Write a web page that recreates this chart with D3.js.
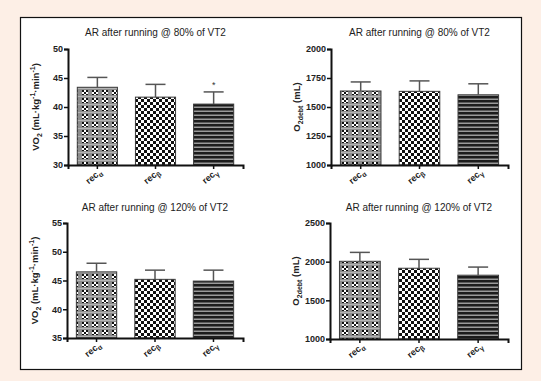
<!DOCTYPE html>
<html>
<head>
<meta charset="utf-8">
<script src="https://cdn.jsdelivr.net/npm/d3@7"></script>
<style>
  html, body { margin: 0; padding: 0; background: #fdefe6; }
  svg { display: block; font-family: "Liberation Sans", Arial, sans-serif; }
  .tick-lbl { font-size: 9px; font-weight: bold; fill: #222; }
  .title { font-size: 10px; fill: #222; }
  .ylab { font-size: 9.5px; font-weight: bold; fill: #222; }
</style>
</head>
<body>
<div id="chart"></div>
<script>
const categories = ["α", "β", "γ"];

const vo2At80 = [43.4, 41.7, 40.5];
const vo2At80Sem = [1.7, 2.2, 2.1];
const o2At80 = [1638, 1635, 1605];
const o2At80Sem = [78, 90, 95];

const vo2At120 = [46.5, 45.2, 44.9];
const vo2At120Sem = [1.5, 1.6, 1.9];
const o2At120 = [2005, 1915, 1825];
const o2At120Sem = [115, 115, 105];

const vo2At80Ticks = [30, 35, 40, 45, 50];
const o2At80Ticks = [1000, 1250, 1500, 1750, 2000];
const vo2At120Ticks = [35, 40, 45, 50, 55];
const o2At120Ticks = [1000, 1500, 2000, 2500];

const title80 = "AR after running @ 80% of VT2";
const title120 = "AR after running @ 120% of VT2";

const W = 541, H = 381;

const svg = d3.select("#chart").append("svg")
  .attr("width", W)
  .attr("height", H);

// fill patterns, one per recovery phase
const defs = svg.append("defs");

const patA = defs.append("pattern")
  .attr("id", "patA").attr("patternUnits", "userSpaceOnUse")
  .attr("width", 10).attr("height", 8);
patA.append("rect").attr("width", 10).attr("height", 8).attr("fill", "#8d8d8d");
patA.append("rect").attr("y", 0).attr("width", 10).attr("height", 1).attr("fill", "#b4b4b4");
patA.append("rect").attr("x", 2).attr("y", 2).attr("width", 6).attr("height", 5).attr("fill", "#fff");
[[2, 2], [6, 2], [4, 4], [2, 6], [6, 6]].forEach(([x, y]) => {
  patA.append("rect").attr("x", x).attr("y", y).attr("width", 2).attr("height", y === 6 ? 1 : 2).attr("fill", "#111");
});

const patB = defs.append("pattern")
  .attr("id", "patB").attr("patternUnits", "userSpaceOnUse")
  .attr("width", 6).attr("height", 6);
patB.append("rect").attr("width", 6).attr("height", 6).attr("fill", "#fff");
patB.append("rect").attr("width", 3).attr("height", 3).attr("fill", "#111");
patB.append("rect").attr("x", 3).attr("y", 3).attr("width", 3).attr("height", 3).attr("fill", "#111");

const patC = defs.append("pattern")
  .attr("id", "patC").attr("patternUnits", "userSpaceOnUse")
  .attr("width", 4).attr("height", 4);
patC.append("rect").attr("width", 4).attr("height", 4).attr("fill", "#1c1c1c");
patC.append("rect").attr("y", 2.5).attr("width", 4).attr("height", 1.5).attr("fill", "#9a9a9a");

const fills = ["url(#patA)", "url(#patB)", "url(#patC)"];

// white frame
svg.append("rect")
  .attr("x", 20.5).attr("y", 17.5)
  .attr("width", 501).attr("height", 352)
  .attr("fill", "#fff").attr("stroke", "#111").attr("stroke-width", 1.2);

function panel(opts) {
  const { left, right, top, bottom, values, sem, ticks, title, titleY, ylabel, ylabX, stars } = opts;
  const g = svg.append("g");

  const x = d3.scaleBand()
    .domain(categories)
    .range([left, right])
    .paddingInner(0.31)
    .paddingOuter(0.16);

  const y = d3.scaleLinear()
    .domain(d3.extent(ticks))
    .range([bottom, top]);

  const rows = categories.map((c, i) => ({ c, v: values[i], e: sem[i], fill: fills[i], star: stars ? stars[i] : "" }));

  g.selectAll("rect.bar")
    .data(rows)
    .join("rect")
    .attr("class", "bar")
    .attr("x", (d) => x(d.c))
    .attr("y", (d) => y(d.v))
    .attr("width", x.bandwidth())
    .attr("height", (d) => bottom - y(d.v))
    .attr("fill", (d) => d.fill)
    .attr("stroke", "#3a3a3a")
    .attr("stroke-width", 1);

  // upper error bars only
  const eb = g.selectAll("g.err").data(rows).join("g").attr("class", "err");
  eb.append("line")
    .attr("x1", (d) => x(d.c) + x.bandwidth() / 2)
    .attr("x2", (d) => x(d.c) + x.bandwidth() / 2)
    .attr("y1", (d) => y(d.v))
    .attr("y2", (d) => y(d.v + d.e))
    .attr("stroke", "#555").attr("stroke-width", 1.5);
  eb.append("line")
    .attr("x1", (d) => x(d.c) + x.bandwidth() / 2 - 10)
    .attr("x2", (d) => x(d.c) + x.bandwidth() / 2 + 10)
    .attr("y1", (d) => y(d.v + d.e))
    .attr("y2", (d) => y(d.v + d.e))
    .attr("stroke", "#555").attr("stroke-width", 1.5);

  g.selectAll("text.star")
    .data(rows.filter((d) => d.star))
    .join("text")
    .attr("class", "star")
    .attr("x", (d) => x(d.c) + x.bandwidth() / 2)
    .attr("y", (d) => y(d.v + d.e) - 4)
    .attr("text-anchor", "middle")
    .attr("font-size", 9)
    .attr("fill", "#333")
    .text((d) => d.star);

  // y axis
  const yAxis = g.append("g")
    .attr("transform", `translate(${left},0)`)
    .call(d3.axisLeft(y).tickValues(ticks).tickSize(4).tickPadding(1).tickFormat(d3.format("d")));
  yAxis.select(".domain").attr("stroke", "#111").attr("stroke-width", 2);
  yAxis.selectAll(".tick line").attr("stroke", "#111").attr("stroke-width", 1.5);
  yAxis.selectAll(".tick text").attr("class", "tick-lbl").attr("font-family", null).attr("font-size", null);

  // x axis
  const xAxis = g.append("g")
    .attr("transform", `translate(0,${bottom})`)
    .call(d3.axisBottom(x).tickSizeOuter(0).tickSize(4).tickFormat(""));
  xAxis.select(".domain").attr("stroke", "#111").attr("stroke-width", 2);
  xAxis.selectAll(".tick line").attr("stroke", "#111").attr("stroke-width", 1.5);

  // rotated category labels
  const xl = g.selectAll("g.xl")
    .data(categories)
    .join("g")
    .attr("class", "xl")
    .attr("transform", (d) => `translate(${x(d) + x.bandwidth() / 2 + 5},${bottom + 8})`)
    .append("text")
    .attr("class", "tick-lbl")
    .attr("text-anchor", "end")
    .attr("transform", "rotate(-40)");
  xl.append("tspan").text("rec");
  xl.append("tspan").attr("font-size", 7).attr("dy", 2.5).text((d) => d);

  // title
  g.append("text")
    .attr("class", "title")
    .attr("x", (left + right) / 2)
    .attr("y", titleY)
    .attr("text-anchor", "middle")
    .text(title);

  // y label
  const yl = g.append("text")
    .attr("class", "ylab")
    .attr("text-anchor", "middle")
    .attr("transform", `translate(${ylabX},${(top + bottom) / 2}) rotate(-90)`);
  ylabel.forEach((part) => {
    const t = yl.append("tspan").text(part.t);
    if (part.sub) t.attr("font-size", 7).attr("dy", 2.5);
    if (part.sup) t.attr("font-size", 7).attr("dy", -4);
    if (part.reset) t.attr("dy", part.reset);
  });
}

const vo2Label = [
  { t: "VO" }, { t: "2", sub: true }, { t: " (mL·kg", reset: -2.5 },
  { t: "-1", sup: true }, { t: "·min", reset: 4 }, { t: "-1", sup: true }, { t: ")", reset: 4 }
];
const o2Label = [
  { t: "O" }, { t: "2debt", sub: true }, { t: " (mL)", reset: -2.5 }
];

panel({ left: 68, right: 243, top: 49, bottom: 165, values: vo2At80, sem: vo2At80Sem,
  ticks: vo2At80Ticks, title: title80, titleY: 36, ylabel: vo2Label, ylabX: 39, stars: ["", "", "*"] });
panel({ left: 331, right: 508, top: 49, bottom: 165, values: o2At80, sem: o2At80Sem,
  ticks: o2At80Ticks, title: title80, titleY: 36, ylabel: o2Label, ylabX: 300 });
panel({ left: 67, right: 243, top: 223, bottom: 338, values: vo2At120, sem: vo2At120Sem,
  ticks: vo2At120Ticks, title: title120, titleY: 211, ylabel: vo2Label, ylabX: 38 });
panel({ left: 330, right: 508, top: 223, bottom: 339, values: o2At120, sem: o2At120Sem,
  ticks: o2At120Ticks, title: title120, titleY: 211, ylabel: o2Label, ylabX: 299 });
</script>
</body>
</html>
